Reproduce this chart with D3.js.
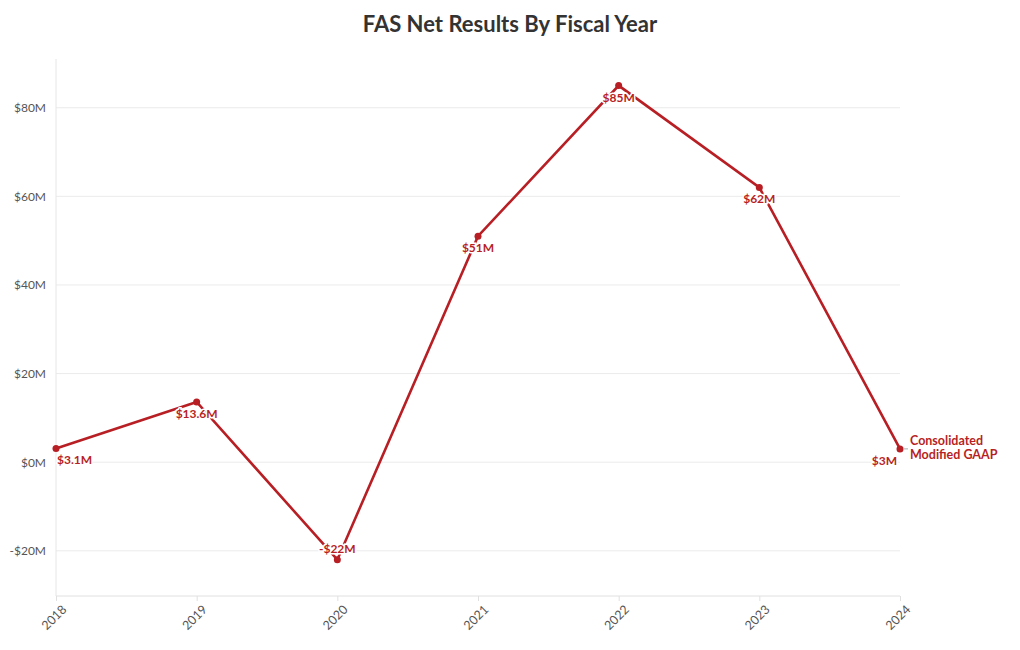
<!DOCTYPE html>
<html><head><meta charset="utf-8">
<script src="https://cdn.jsdelivr.net/npm/d3@7"></script>
<style>body{margin:0;background:#fff;font-family:Lato,"Open Sans",sans-serif}</style>
</head><body><svg id="c" width="1020" height="650"></svg>
<script>
const years = ["2018","2019","2020","2021","2022","2023","2024"];
const values = [3.1, 13.6, -22, 51, 85, 62, 3];
const labels = ["$3.1M","$13.6M","-$22M","$51M","$85M","$62M","$3M"];
const yTicks = [-20, 0, 20, 40, 60, 80];
const seriesName = ["Consolidated","Modified GAAP"];
const color = "#b81f24";

const svg = d3.select("#c");
const x = d3.scalePoint().domain(years).range([56, 900]);
const y = d3.scaleLinear().domain([-30.2, 91]).range([596, 59]);

svg.append("text").attr("x",510).attr("y",32).attr("text-anchor","middle")
  .attr("font-size",22).attr("font-weight",700).attr("fill","#333").text("FAS Net Results By Fiscal Year");

svg.append("g").selectAll("line").data(yTicks).join("line")
  .attr("x1",56).attr("x2",900).attr("y1",d=>y(d)).attr("y2",d=>y(d))
  .attr("stroke","#ebebeb");
svg.append("line").attr("x1",56).attr("x2",56).attr("y1",59).attr("y2",596).attr("stroke","#e6e6e6");
svg.append("line").attr("x1",56).attr("x2",900).attr("y1",596).attr("y2",596).attr("stroke","#e0e0e0");

const ya = svg.append("g").attr("transform","translate(56,0)")
  .call(d3.axisLeft(y).tickValues(yTicks).tickSize(0).tickPadding(10).tickFormat(d=> (d<0?"-$":"$")+Math.abs(d)+"M"));
ya.select(".domain").remove();
ya.selectAll("text").attr("font-size",12).attr("fill","#555").attr("font-family","Lato,sans-serif");

const xa = svg.append("g").attr("transform","translate(0,596)")
  .call(d3.axisBottom(x).tickSize(5).tickPadding(4));
xa.select(".domain").remove();
xa.selectAll("line").attr("stroke","#e0e0e0");
xa.selectAll("text").attr("font-size",12.5).attr("fill","#555").attr("font-family","Lato,sans-serif")
  .attr("text-anchor","end").attr("dx","-0.2em").attr("dy","0.7em").attr("transform","rotate(-45)");

const line = d3.line().x((d,i)=>x(years[i])).y(d=>y(d));
svg.append("path").datum(values).attr("d",line).attr("fill","none").attr("stroke",color).attr("stroke-width",2.6);
svg.append("g").selectAll("circle").data(values).join("circle")
  .attr("cx",(d,i)=>x(years[i])).attr("cy",d=>y(d)).attr("r",3.5).attr("fill",color);

const above = [false,false,true,false,false,false,false];
const anchors = ["start","middle","middle","middle","middle","middle","end"];
const dxs = [1,0,0,0,0,0,-3];
svg.append("g").selectAll("text").data(values).join("text")
  .attr("x",(d,i)=>x(years[i])+dxs[i])
  .attr("y",(d,i)=> above[i] ? y(d)-7 : y(d)+16)
  .attr("text-anchor",(d,i)=>anchors[i])
  .attr("font-size",12).attr("font-weight",700).attr("fill",color)
  .attr("stroke","#fff").attr("stroke-width",3).attr("paint-order","stroke")
  .text((d,i)=>labels[i]);

const last = values[values.length-1];
svg.append("line").attr("x1",x("2024")+4).attr("x2",x("2024")+8).attr("y1",y(last)).attr("y2",y(last)).attr("stroke","#aaa");
svg.append("g").selectAll("text").data(seriesName).join("text")
  .attr("x",910).attr("y",(d,i)=>y(last)-4+i*14.5)
  .attr("font-size",12.5).attr("font-weight",700).attr("fill",color).text(d=>d);
</script></body></html>
